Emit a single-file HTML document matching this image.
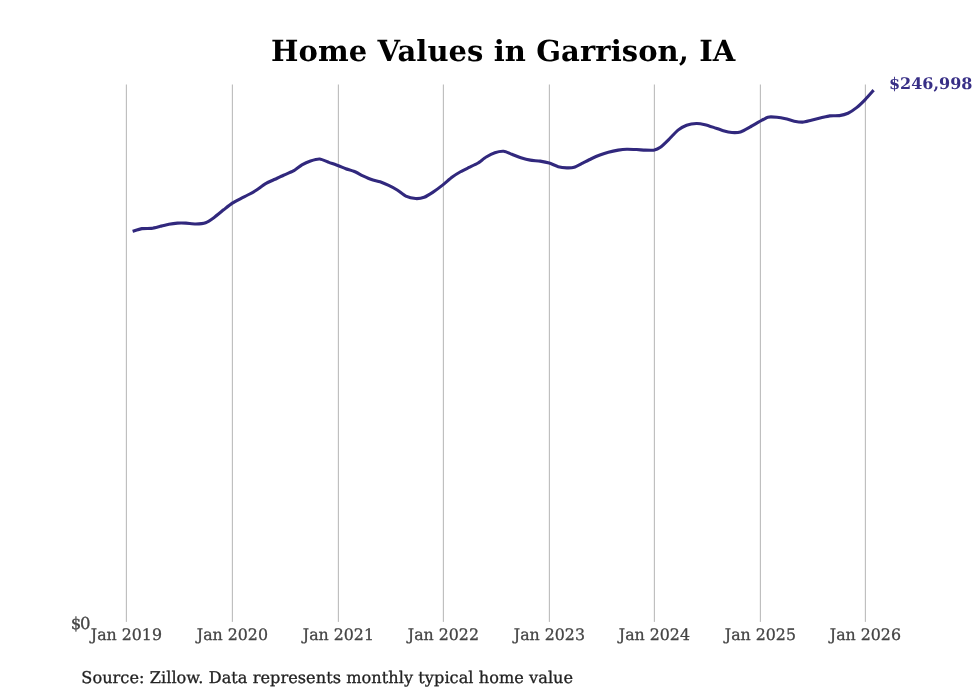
<!DOCTYPE html>
<html lang="en">
<head>
<meta charset="utf-8">
<title>Home Values in Garrison, IA</title>
<style>
html,body{margin:0;padding:0;background:#ffffff;}
body{width:980px;height:699px;overflow:hidden;font-family:"DejaVu Serif","Liberation Serif",serif;}
svg{display:block;will-change:transform;}
svg text{font-family:"DejaVu Serif","Liberation Serif",serif;text-rendering:geometricPrecision;stroke-linejoin:round;}
.ticks text,.thin{stroke:#444444;stroke-width:0.3px;}
.src{stroke:#222222;stroke-width:0.3px;}
.grid line{stroke:#b4b4b4;stroke-width:1;}
.ticks text{font-size:15.8px;fill:#444444;text-anchor:middle;}
</style>
</head>
<body>
<svg width="980" height="699" viewBox="0 0 980 699">
<rect x="0" y="0" width="980" height="699" fill="#ffffff"/>
<g class="grid">
<line x1="126.35" y1="84.5" x2="126.35" y2="621.9"/>
<line x1="232.35" y1="84.5" x2="232.35" y2="621.9"/>
<line x1="338.35" y1="84.5" x2="338.35" y2="621.9"/>
<line x1="443.35" y1="84.5" x2="443.35" y2="621.9"/>
<line x1="549.35" y1="84.5" x2="549.35" y2="621.9"/>
<line x1="654.35" y1="84.5" x2="654.35" y2="621.9"/>
<line x1="760.35" y1="84.5" x2="760.35" y2="621.9"/>
<line x1="865.35" y1="84.5" x2="865.35" y2="621.9"/>
</g>
<path fill="none" stroke="#31287d" stroke-width="3.1" stroke-linejoin="round" stroke-linecap="butt" d="M132.60,231.35 C133.45,231.10 140.15,228.93 141.90,228.65 C143.65,228.38 150.01,228.56 151.70,228.35 C153.39,228.14 158.72,226.73 160.30,226.35 C161.88,225.97 167.33,224.54 168.90,224.25 C170.47,223.96 175.83,223.25 177.40,223.15 C178.97,223.05 184.31,223.08 186.00,223.15 C187.69,223.22 194.00,223.99 195.80,223.95 C197.60,223.91 203.91,223.35 205.60,222.75 C207.29,222.15 212.51,218.66 214.20,217.45 C215.89,216.24 222.34,210.86 224.00,209.55 C225.66,208.24 230.77,204.16 232.30,203.15 C233.83,202.14 239.14,199.37 240.70,198.55 C242.26,197.73 247.84,195.04 249.30,194.25 C250.76,193.46 255.14,190.90 256.60,189.95 C258.06,189.00 263.51,184.83 265.20,183.85 C266.89,182.87 273.32,180.04 275.00,179.25 C276.68,178.46 281.82,176.01 283.50,175.25 C285.18,174.49 291.61,171.90 293.30,170.95 C294.99,170.00 300.32,165.77 301.90,164.85 C303.48,163.93 308.87,161.49 310.50,160.95 C312.13,160.41 318.01,158.82 319.70,158.95 C321.39,159.08 327.18,161.73 328.90,162.35 C330.62,162.97 336.95,165.16 338.50,165.75 C340.05,166.34 344.34,168.22 345.80,168.75 C347.26,169.28 352.83,170.90 354.40,171.55 C355.97,172.20 361.33,175.12 362.90,175.85 C364.47,176.58 369.92,179.01 371.50,179.55 C373.08,180.09 378.52,181.21 380.10,181.75 C381.68,182.29 387.13,184.70 388.70,185.45 C390.27,186.20 395.63,188.98 397.20,189.95 C398.77,190.92 404.11,195.26 405.80,196.05 C407.49,196.84 413.91,198.44 415.60,198.55 C417.29,198.66 422.63,197.82 424.20,197.25 C425.77,196.68 430.99,193.49 432.70,192.35 C434.41,191.21 441.14,186.23 442.90,184.85 C444.66,183.47 450.29,178.45 451.90,177.25 C453.51,176.05 458.92,172.65 460.50,171.75 C462.08,170.85 467.53,168.23 469.10,167.45 C470.67,166.67 476.03,164.20 477.60,163.25 C479.17,162.30 484.62,158.01 486.20,157.05 C487.78,156.09 493.20,153.28 494.80,152.75 C496.40,152.22 502.13,151.16 503.70,151.30 C505.27,151.44 510.25,153.63 511.90,154.25 C513.55,154.87 520.01,157.51 521.70,158.05 C523.39,158.59 528.61,159.87 530.30,160.15 C531.99,160.43 538.37,160.88 540.10,161.15 C541.83,161.42 547.54,162.55 549.20,163.05 C550.86,163.55 556.59,166.21 558.20,166.65 C559.81,167.09 565.33,167.79 566.80,167.85 C568.27,167.91 572.74,167.69 574.20,167.25 C575.66,166.81 581.13,163.83 582.70,163.05 C584.27,162.27 589.72,159.48 591.30,158.75 C592.88,158.02 598.33,155.65 599.90,155.05 C601.47,154.45 606.72,152.70 608.40,152.25 C610.08,151.80 616.51,150.43 618.20,150.15 C619.89,149.88 625.11,149.31 626.80,149.25 C628.49,149.19 634.91,149.47 636.60,149.55 C638.29,149.63 643.63,150.09 645.20,150.15 C646.77,150.21 652.31,150.41 653.70,150.15 C655.09,149.89 658.95,148.39 660.40,147.35 C661.85,146.31 667.89,140.33 669.50,138.75 C671.11,137.17 676.43,131.39 678.00,130.15 C679.57,128.91 684.91,125.86 686.60,125.25 C688.29,124.64 694.71,123.50 696.40,123.45 C698.09,123.39 703.42,124.29 705.00,124.65 C706.58,125.01 711.92,126.79 713.60,127.35 C715.28,127.91 721.62,130.27 723.30,130.75 C724.98,131.23 730.32,132.44 731.90,132.55 C733.48,132.66 738.81,132.47 740.50,131.95 C742.19,131.43 748.61,127.77 750.30,126.85 C751.99,125.93 757.29,122.84 758.90,121.95 C760.51,121.06 766.24,117.58 767.90,117.15 C769.56,116.72 775.38,117.10 777.00,117.25 C778.62,117.40 784.02,118.39 785.60,118.75 C787.18,119.11 792.63,120.84 794.20,121.15 C795.77,121.46 801.13,122.24 802.70,122.15 C804.27,122.06 809.61,120.54 811.30,120.15 C812.99,119.76 819.41,118.24 821.10,117.85 C822.79,117.46 828.01,116.05 829.70,115.85 C831.39,115.65 837.82,115.89 839.50,115.65 C841.18,115.41 846.43,113.98 848.00,113.25 C849.57,112.52 855.02,108.91 856.60,107.65 C858.18,106.39 863.64,101.15 865.20,99.55 C866.76,97.95 872.83,91.01 873.60,90.15"/>
<text x="503.2" y="60.6" font-size="29" font-weight="bold" text-anchor="middle" textLength="464.3" lengthAdjust="spacing" fill="#000000">Home Values in Garrison, IA</text>
<text x="888.9" y="88.9" font-size="16.0" font-weight="bold" textLength="83.5" lengthAdjust="spacing" fill="#382f86">$246,998</text>
<text x="70.8 79.9" y="629.0" class="thin" font-size="16.5" fill="#444444">$0</text>
<g class="ticks">
<text x="126.4" y="640.3">Jan 2019</text>
<text x="232.4" y="640.3">Jan 2020</text>
<text x="338.4" y="640.3">Jan 2021</text>
<text x="443.4" y="640.3">Jan 2022</text>
<text x="549.4" y="640.3">Jan 2023</text>
<text x="654.4" y="640.3">Jan 2024</text>
<text x="760.4" y="640.3">Jan 2025</text>
<text x="865.4" y="640.3">Jan 2026</text>
</g>
<text x="81.3" y="683.4" class="src" font-size="16.15" textLength="491.8" lengthAdjust="spacing" fill="#222222">Source: Zillow. Data represents monthly typical home value</text>
</svg>
</body>
</html>
